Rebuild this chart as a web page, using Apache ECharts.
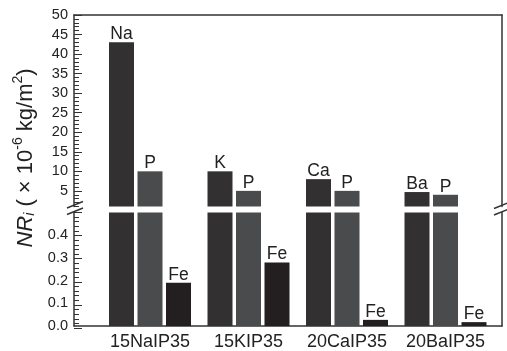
<!DOCTYPE html>
<html>
<head>
<meta charset="utf-8">
<script src="https://cdn.jsdelivr.net/npm/echarts@6/dist/echarts.min.js"></script>
<style>html,body{margin:0;padding:0;background:#fff}#c{width:507px;height:351px}</style>
</head>
<body>
<div id="c"></div>
<script>
// ---- data ----
const categories = ['15NaIP35', '15KIP35', '20CaIP35', '20BaIP35'];
const modifierNames = ['Na', 'K', 'Ca', 'Ba'];
const modifierValues = [43, 10, 8, 4.7];
const phosphorusValues = [10, 5, 5, 4];
const ironValues = [0.19, 0.28, 0.027, 0.017];
const upperTickLabels = [5, 10, 15, 20, 25, 30, 35, 40, 45, 50];
const lowerTickLabels = [0, 0.1, 0.2, 0.3, 0.4];

const positions = categories.map((c, i) => i + 1);
const pairs = vals => vals.map((v, i) => [positions[i], v]);

const FONT = 'Liberation Sans';
const AX = '#333';
const TK = '#333';
const C_MOD = '#323031', C_P = '#4a4b4d', C_FE = '#231f20';

// upper segment: values 1..50 over 191.5 px
const UP_TOP = 15, UP_H = 191.5, UP_MIN = 1, UP_MAX = 50;
const upScale = UP_H / (UP_MAX - UP_MIN);
const LO_TOP = 212.5, LO_H = 115.5;

const chart = echarts.init(document.getElementById('c'), null, {renderer: 'canvas'});

const xBase = {
  type: 'value', min: 0.2284, max: 4.5736,
  splitLine: {show: false},
  axisTick: {show: false},
  axisLine: {show: true, onZero: false, lineStyle: {color: AX, width: 1.5}}
};
const lineOnly = {
  axisLabel: {show: false}, axisTick: {show: false}, splitLine: {show: false},
  axisLine: {show: true, onZero: false, lineStyle: {color: AX, width: 1.5}}
};
const tickOnly = (grid, min, max, interval, len) => ({
  type: 'value', gridIndex: grid, position: 'left', min: min, max: max, interval: interval,
  splitLine: {show: false}, axisLabel: {show: false},
  axisLine: {show: true, onZero: false, lineStyle: {color: 'rgba(0,0,0,0)'}},
  axisTick: {show: true, length: len, lineStyle: {color: TK, width: 1}}
});

const barCommon = {type: 'bar', barWidth: 25, barGap: '14%', clip: true};
const lbl = (fmt) => ({
  show: true, position: 'top', distance: -1, fontFamily: FONT, fontSize: 17.5, color: '#222',
  formatter: fmt
});

chart.setOption({
  animation: false,
  backgroundColor: '#fff',
  grid: [
    {left: 74, right: 5, top: UP_TOP, height: UP_H},
    {left: 74, right: 5, top: LO_TOP, height: LO_H},
    // narrow tick grids whose left edge sits inside the frame, so the ticks point inward
    {left: 82, width: 20, top: UP_TOP, height: (UP_MAX - 5) * upScale},
    {left: 79, width: 20, top: UP_TOP, height: UP_H},
    {left: 82, width: 20, top: LO_TOP, height: LO_H},
    {left: 79, width: 20, top: LO_TOP, height: LO_H}
  ],
  xAxis: [
    Object.assign({}, xBase, {gridIndex: 0, position: 'top', axisLabel: {show: false}}),
    Object.assign({}, xBase, {gridIndex: 1, position: 'bottom',
      axisLabel: {show: true, customValues: positions, margin: 7,
        fontFamily: FONT, fontSize: 18, color: '#222',
        formatter: v => categories[Math.round(v) - 1] || ''}}),
    {type: 'value', gridIndex: 2, show: false},
    {type: 'value', gridIndex: 3, show: false},
    {type: 'value', gridIndex: 4, show: false},
    {type: 'value', gridIndex: 5, show: false}
  ],
  yAxis: [
    // 0: upper axis line + labels
    {type: 'value', gridIndex: 0, position: 'left', min: UP_MIN, max: UP_MAX,
      splitLine: {show: false}, axisTick: {show: false},
      axisLabel: {show: true, customValues: upperTickLabels, margin: 6, fontFamily: FONT, fontSize: 14.5, color: '#222'},
      axisLine: {show: true, onZero: false, lineStyle: {color: AX, width: 1.5}}},
    // 1: upper right frame
    Object.assign({type: 'value', gridIndex: 0, position: 'right', min: UP_MIN, max: UP_MAX}, lineOnly),
    // 2: lower axis line + labels
    {type: 'value', gridIndex: 1, position: 'left', min: 0, max: 0.5, interval: 0.1,
      splitLine: {show: false}, axisTick: {show: false},
      axisLabel: {show: true, margin: 6, fontFamily: FONT, fontSize: 14.5, color: '#222',
        formatter: v => (lowerTickLabels.some(t => Math.abs(t - v) < 1e-9) ? v.toFixed(1) : '')},
      axisLine: {show: true, onZero: false, lineStyle: {color: AX, width: 1.5}}},
    // 3: lower right frame
    Object.assign({type: 'value', gridIndex: 1, position: 'right', min: 0, max: 0.5}, lineOnly),
    // 4-7: inward ticks
    tickOnly(2, 5, 50, 5, 8),
    tickOnly(3, 1, 50, 1, 5),
    tickOnly(4, 0, 0.5, 0.1, 8),
    tickOnly(5, 0, 0.5, 0.02, 5)
  ],
  series: [
    Object.assign({}, barCommon, {name: 'modifier', xAxisIndex: 0, yAxisIndex: 0, data: pairs(modifierValues),
      itemStyle: {color: C_MOD}, label: lbl(p => modifierNames[p.dataIndex])}),
    Object.assign({}, barCommon, {name: 'P', xAxisIndex: 0, yAxisIndex: 0, data: pairs(phosphorusValues),
      itemStyle: {color: C_P}, label: lbl(() => 'P')}),
    Object.assign({}, barCommon, {name: 'Fe', xAxisIndex: 0, yAxisIndex: 0, data: pairs(ironValues),
      itemStyle: {color: C_FE}, label: {show: false}}),
    Object.assign({}, barCommon, {name: 'modifier', xAxisIndex: 1, yAxisIndex: 2, data: pairs(modifierValues),
      itemStyle: {color: C_MOD}, label: {show: false}}),
    Object.assign({}, barCommon, {name: 'P', xAxisIndex: 1, yAxisIndex: 2, data: pairs(phosphorusValues),
      itemStyle: {color: C_P}, label: {show: false}}),
    Object.assign({}, barCommon, {name: 'Fe', xAxisIndex: 1, yAxisIndex: 2, data: pairs(ironValues),
      itemStyle: {color: C_FE}, label: lbl(() => 'Fe')})
  ],
  graphic: [
    {type: 'text', x: 24, y: 158, rotation: Math.PI / 2, z: 100,
      style: {
        text: '{it|NR}{sub|i}{n| ( × 10}{sup|-6}{n| kg/m}{sup|2}{n|)}',
        align: 'center', verticalAlign: 'middle', fill: '#222',
        rich: {
          it: {fontFamily: FONT, fontSize: 22, fontStyle: 'italic', lineHeight: 26, verticalAlign: 'bottom', fill: '#222'},
          n: {fontFamily: FONT, fontSize: 22, lineHeight: 26, verticalAlign: 'bottom', fill: '#222'},
          sub: {fontFamily: FONT, fontSize: 14, fontStyle: 'italic', lineHeight: 14, verticalAlign: 'bottom', fill: '#222'},
          sup: {fontFamily: FONT, fontSize: 14, lineHeight: 14, verticalAlign: 'top', fill: '#222'}
        }
      }},
    {type: 'line', z: 100, shape: {x1: 67, y1: 208, x2: 83, y2: 201.5}, style: {stroke: AX, lineWidth: 1.5}},
    {type: 'line', z: 100, shape: {x1: 67, y1: 214.5, x2: 83, y2: 208}, style: {stroke: AX, lineWidth: 1.5}},
    {type: 'line', z: 100, shape: {x1: 494, y1: 208.5, x2: 510, y2: 202}, style: {stroke: AX, lineWidth: 1.5}},
    {type: 'line', z: 100, shape: {x1: 494, y1: 215, x2: 510, y2: 208.5}, style: {stroke: AX, lineWidth: 1.5}}
  ]
});
</script>
</body>
</html>
